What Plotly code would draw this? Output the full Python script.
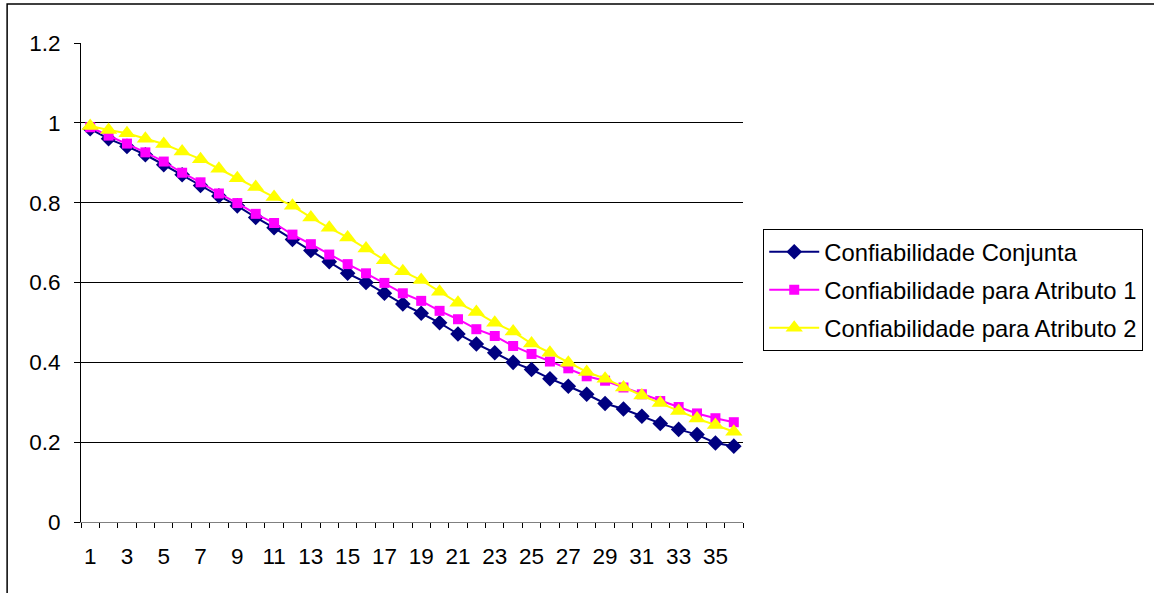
import plotly.graph_objects as go

categories = list(range(1, 37))
tick_labels = [str(c) for c in range(1, 37, 2)]

conjunta = [0.985, 0.960, 0.941, 0.920, 0.895, 0.870, 0.843, 0.817, 0.792, 0.763,
            0.737, 0.708, 0.680, 0.652, 0.623, 0.600, 0.573, 0.546, 0.523, 0.499,
            0.471, 0.446, 0.424, 0.400, 0.382, 0.359, 0.340, 0.320, 0.297, 0.283,
            0.265, 0.247, 0.232, 0.219, 0.198, 0.190]
atributo1 = [0.989, 0.968, 0.948, 0.926, 0.903, 0.875, 0.851, 0.823, 0.799, 0.772,
             0.749, 0.720, 0.696, 0.670, 0.646, 0.623, 0.599, 0.573, 0.554, 0.529,
             0.508, 0.483, 0.466, 0.441, 0.421, 0.402, 0.385, 0.365, 0.354, 0.337,
             0.320, 0.303, 0.288, 0.272, 0.260, 0.250]
atributo2 = [0.992, 0.982, 0.974, 0.960, 0.947, 0.928, 0.909, 0.885, 0.861, 0.839,
             0.814, 0.792, 0.763, 0.737, 0.713, 0.685, 0.656, 0.628, 0.606, 0.577,
             0.549, 0.526, 0.499, 0.477, 0.447, 0.424, 0.399, 0.376, 0.359, 0.337,
             0.317, 0.298, 0.278, 0.259, 0.243, 0.226]

series = [
    ("Confiabilidade Conjunta", conjunta, "#000080", "diamond", 12),
    ("Confiabilidade para Atributo 1", atributo1, "#FF00FF", "square", 10),
    ("Confiabilidade para Atributo 2", atributo2, "#FFFF00", "triangle-up", 15),
]

fig = go.Figure()
for i, (name, vals, color, sym, size) in enumerate(series):
    fig.add_trace(go.Scatter(
        x=categories, y=vals, name=name, mode="lines+markers",
        line=dict(color=color, width=2),
        marker=dict(symbol=sym, size=size, color=color, line=dict(width=0)),
        legendgroup=f"g{i}",
    ))

fig.update_layout(
    width=1154, height=593,
    margin=dict(l=81, r=410, t=43, b=71),
    paper_bgcolor="white", plot_bgcolor="white",
    font=dict(family="Liberation Sans, Arial, sans-serif", size=22.5, color="black"),
    showlegend=True,
    legend=dict(
        x=1.029, y=0.612, xanchor="left", yanchor="top",
        bordercolor="black", borderwidth=1, bgcolor="white",
        font=dict(size=23.8), tracegroupgap=4, traceorder="grouped",
        itemwidth=50,
    ),
    xaxis=dict(
        range=[0.5, 36.5], tickmode="array",
        tickvals=list(range(1, 37, 2)), ticktext=tick_labels,
        ticks="", showgrid=False, zeroline=False,
        showline=True, linecolor="#808080", linewidth=1,
        ticklabelstandoff=14,
        minor=dict(tickmode="linear", tick0=0.5, dtick=1, ticks="outside",
                   ticklen=5, tickcolor="black", tickwidth=1, showgrid=False),
    ),
    yaxis=dict(
        range=[0, 1.2], tickmode="array",
        tickvals=[0, 0.2, 0.4, 0.6, 0.8, 1.0, 1.2],
        ticktext=["0", "0.2", "0.4", "0.6", "0.8", "1", "1.2"],
        ticks="outside", ticklen=6, tickcolor="black",
        showgrid=True, gridcolor="black", gridwidth=1,
        zeroline=False, showline=True, linecolor="black", linewidth=1,
        ticklabelstandoff=9,
    ),
    shapes=[dict(type="rect", xref="paper", yref="paper",
                 x0=-0.1116, x1=2.0, y0=-1.0, y1=1.0814,
                 line=dict(color="black", width=1.5), fillcolor="rgba(0,0,0,0)",
                 layer="below")],
)

fig.write_html("out.html", config={"displayModeBar": False},
               post_script="document.body.style.margin='0';document.body.style.overflow='hidden';")
